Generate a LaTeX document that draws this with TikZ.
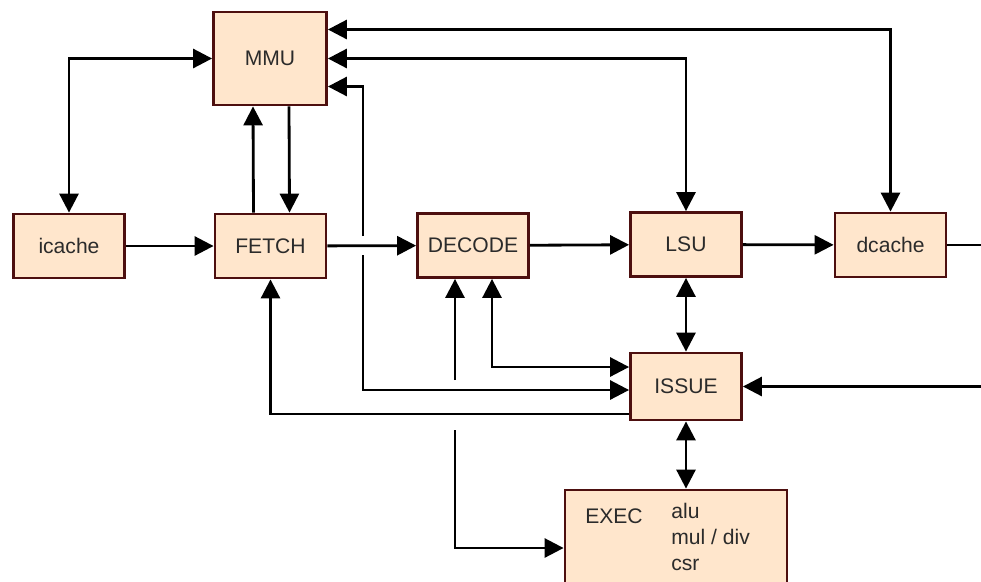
\documentclass[tikz,border=0pt]{standalone}
\usepackage{fontspec}
\setmainfont{Liberation Sans}
\usetikzlibrary{arrows.meta, positioning, calc}
\definecolor{unitfill}{HTML}{FFE6CC}
\definecolor{unitline}{HTML}{4D0F0F}
\definecolor{unittext}{HTML}{2B2B2B}

\begin{document}
\begin{tikzpicture}[
  unit/.style={draw=unitline, fill=unitfill, line width=1.6pt,
    minimum width=2.22cm, minimum height=1.28cm, inner sep=0pt,
    text=unittext, font=\fontsize{12}{14.7}\selectfont},
  lbl/.style={text=unittext, font=\fontsize{12}{14.7}\selectfont, inner sep=0pt},
  link/.style={line width=1.6pt, -{Triangle[length=3.8mm, width=3.8mm]}},
  both/.style={link, {Triangle[length=3.8mm, width=3.8mm]}-{Triangle[length=3.8mm, width=3.8mm]}}
]
  \path[use as bounding box, clip] (0,0) rectangle (19.62,-11.62);

  % Units
  \node[unit, minimum width=2.26cm, minimum height=1.86cm] (mmu) at (5.40,-1.17) {MMU};
  \node[unit] (icache) at (1.38,-4.92) {icache};
  \node[unit] (fetch) at (5.41,-4.92) {FETCH};
  \node[unit] (decode) at (9.46,-4.91) {DECODE};
  \node[unit] (lsu) at (13.72,-4.89) {LSU};
  \node[unit] (dcache) at (17.81,-4.90) {dcache};
  \node[unit, minimum height=1.34cm] (issue) at (13.72,-7.73) {ISSUE};

  % Execute unit
  \node[unit, minimum width=4.44cm, minimum height=2.6cm] (exec) at (13.52,-11.10) {};
  \node[lbl] (execname) at (12.28,-10.33) {EXEC};
  \node[lbl, anchor=west, align=left] (execunits) at (13.42,-10.74) {alu\\mul / div\\csr};

  % Memory side
  \draw[both] (mmu.west) -| (icache.north);
  \draw[link] (icache) -- (fetch);
  \draw[link] ([xshift=-0.34cm]fetch.north) -- ([xshift=-0.34cm]mmu.south);
  \draw[link] ([xshift=0.38cm]mmu.south) -- ([xshift=0.38cm]fetch.north);
  \draw[both] ([yshift=0.58cm]mmu.east) -| (dcache.north);
  \draw[both] (mmu.east) -| (lsu.north);

  % MMU <-> ISSUE, broken where it crosses FETCH -> DECODE
  \coordinate (jumptop) at (7.26,-4.72);
  \coordinate (jumpbot) at (7.26,-5.10);
  \draw[link] (jumptop) |- ([yshift=-0.56cm]mmu.east);
  \draw[link] (jumpbot) |- ([yshift=-0.07cm]issue.west);

  % Pipeline
  \draw[link] (fetch) -- (decode);
  \draw[link] (decode) -- (lsu);
  \draw[link] (lsu) -- (dcache);
  \coordinate (dcout) at (19.8,-4.90);
  \draw[line width=1.6pt] (dcache) -- (dcout);
  \coordinate (issin) at (19.8,-7.73);
  \draw[link] (issin) -- (issue);
  \draw[both] (lsu) -- (issue);
  \draw[both] (issue.south) -- (issue.south |- exec.north);

  % Back to DECODE and FETCH
  \draw[both] ([xshift=0.38cm]decode.south) |- ([yshift=0.39cm]issue.west);
  \draw[link] ([yshift=-0.55cm]issue.west) -| (fetch.south);

  % DECODE <-> EXEC, broken where it crosses the ISSUE lines
  \coordinate (decjump) at (9.10,-7.60);
  \coordinate (execjump) at (9.10,-8.60);
  \draw[link] (decjump) -- (decjump |- decode.south);
  \draw[link] (execjump) |- ([yshift=0.14cm]exec.west);
\end{tikzpicture}
\end{document}
